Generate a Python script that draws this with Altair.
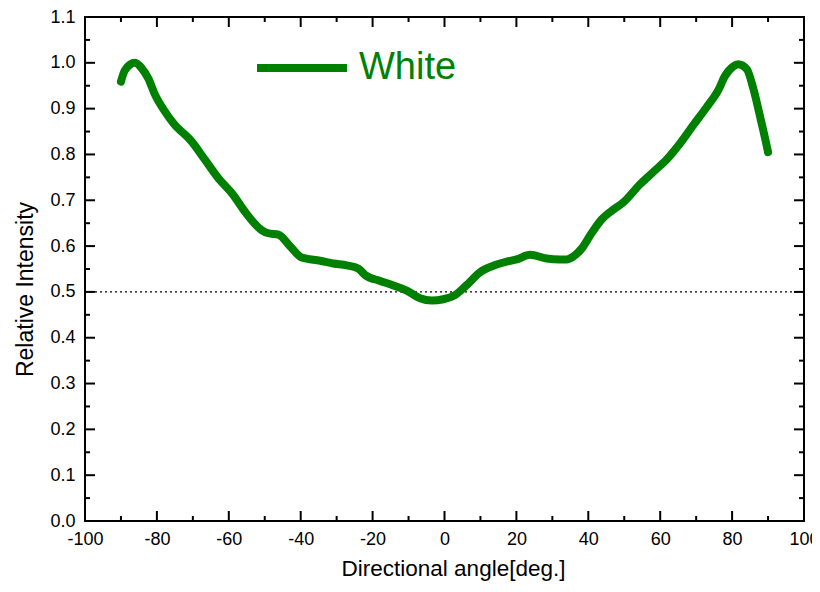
import altair as alt
import pandas as pd

# data
angle = [-90.0, -88.9, -86.1, -84.2, -82.4, -80.5, -77.7, -75.4, -70.3, -66.6,
         -62.9, -58.7, -55.5, -50.9, -49.0, -46.2, -43.0, -39.7, -34.6, -30.9,
         -27.2, -24.0, -22.1, -17.9, -14.2, -10.5, -6.8, -3.6, -0.3, 2.9,
         6.2, 9.9, 13.6, 17.3, 20.1, 23.8, 28.4, 32.1, 34.0, 35.8,
         38.2, 40.9, 43.7, 46.5, 49.7, 54.4, 58.1, 61.8, 65.5, 69.2,
         72.9, 76.2, 78.0, 80.3, 81.7, 84.1, 85.9, 87.8, 89.6, 90.0]
intensity = [0.959, 0.984, 1.000, 0.988, 0.966, 0.930, 0.893, 0.868, 0.828, 0.788,
             0.748, 0.711, 0.675, 0.635, 0.628, 0.625, 0.600, 0.575, 0.568, 0.562,
             0.558, 0.551, 0.537, 0.524, 0.514, 0.503, 0.486, 0.481, 0.484, 0.493,
             0.515, 0.543, 0.557, 0.566, 0.571, 0.581, 0.573, 0.571, 0.571, 0.577,
             0.595, 0.628, 0.658, 0.677, 0.695, 0.735, 0.762, 0.789, 0.824, 0.864,
             0.903, 0.941, 0.971, 0.992, 0.997, 0.986, 0.944, 0.882, 0.820, 0.805]
series_name = "White"

x_major = [-100, -80, -60, -40, -20, 0, 20, 40, 60, 80, 100]
x_minor = [-90, -70, -50, -30, -10, 10, 30, 50, 70, 90]
y_major = [0.0, 0.1, 0.2, 0.3, 0.4, 0.5, 0.6, 0.7, 0.8, 0.9, 1.0, 1.1]
y_minor = [0.05, 0.15, 0.25, 0.35, 0.45, 0.55, 0.65, 0.75, 0.85, 0.95, 1.05]
ref_level = 0.5

X_MIN, X_MAX = -100, 100
Y_MIN, Y_MAX = 0.0, 1.1
W, H = 719, 504
MAJ_PX, MIN_PX = 10, 5
xu = (X_MAX - X_MIN) / W
yu = (Y_MAX - Y_MIN) / H

FONT = "Liberation Sans"
GREEN = "#008000"

xs = alt.Scale(domain=[X_MIN, X_MAX], nice=False, zero=False)
ys = alt.Scale(domain=[Y_MIN, Y_MAX], nice=False, zero=False)

df = pd.DataFrame({"angle": angle, "intensity": intensity, "series": series_name})

line = alt.Chart(df).mark_line(
    strokeWidth=8, strokeCap="round", strokeJoin="round", interpolate="monotone"
).encode(
    x=alt.X("angle:Q", scale=xs,
            axis=alt.Axis(values=x_major, title="Directional angle[deg.]",
                          labelExpr="'' + datum.value",
                          tickSize=0, domain=False, grid=False, labelPadding=9,
                          labelFontSize=18, titleFontSize=22.5,
                          titleX=368, titleY=47, titleBaseline="middle",
                          labelFont=FONT, titleFont=FONT, titleFontWeight="normal",
                          labelColor="black", titleColor="black", labelFlush=False)),
    y=alt.Y("intensity:Q", scale=ys,
            axis=alt.Axis(values=y_major, format=".1f", title="Relative Intensity",
                          tickSize=0, domain=False, grid=False, labelPadding=10,
                          labelFontSize=18, titleFontSize=23,
                          titleX=-60, titleY=272, titleBaseline="middle",
                          titleAngle=270, titleAlign="center",
                          labelFont=FONT, titleFont=FONT, titleFontWeight="normal",
                          labelColor="black", titleColor="black")),
    color=alt.Color("series:N", scale=alt.Scale(range=[GREEN]),
                    legend=alt.Legend(title=None, orient="none", legendX=168, legendY=2,
                                      symbolType="stroke", symbolSize=8100,
                                      symbolStrokeWidth=8, labelFontSize=38,
                                      labelFont=FONT, labelColor=GREEN,
                                      labelOffset=8, padding=0)),
)

ref = alt.Chart(pd.DataFrame({"y": [ref_level]})).mark_rule(
    color="black", strokeWidth=1.2, strokeDash=[2, 3]
).encode(
    y=alt.Y("y:Q", scale=ys),
    x=alt.datum(X_MIN, scale=xs),
    x2=alt.datum(X_MAX),
)

def xticks(vals, y0, y1):
    d = pd.DataFrame({"v": vals, "a": y0, "b": y1})
    return alt.Chart(d).mark_rule(color="black", strokeWidth=2).encode(
        x=alt.X("v:Q", scale=xs), y=alt.Y("a:Q", scale=ys), y2="b:Q")

def yticks(vals, x0, x1):
    d = pd.DataFrame({"v": vals, "a": x0, "b": x1})
    return alt.Chart(d).mark_rule(color="black", strokeWidth=2).encode(
        y=alt.Y("v:Q", scale=ys), x=alt.X("a:Q", scale=xs), x2="b:Q")

ticks = [
    xticks(x_major, Y_MIN, Y_MIN + MAJ_PX * yu),
    xticks(x_minor, Y_MIN, Y_MIN + MIN_PX * yu),
    xticks(x_major, Y_MAX, Y_MAX - MAJ_PX * yu),
    xticks(x_minor, Y_MAX, Y_MAX - MIN_PX * yu),
    yticks(y_major, X_MIN, X_MIN + MAJ_PX * xu),
    yticks(y_minor, X_MIN, X_MIN + MIN_PX * xu),
    yticks(y_major, X_MAX, X_MAX - MAJ_PX * xu),
    yticks(y_minor, X_MAX, X_MAX - MIN_PX * xu),
]

chart = alt.layer(ref, *ticks, line).properties(
    width=W, height=H,
    autosize=alt.AutoSizeParams(type="none"),
    padding={"left": 77, "top": 9, "right": 8, "bottom": 63},
    background="white",
).configure_view(
    stroke="black", strokeWidth=2
)

chart.save("out.html", embed_options={"renderer": "svg", "actions": False})
